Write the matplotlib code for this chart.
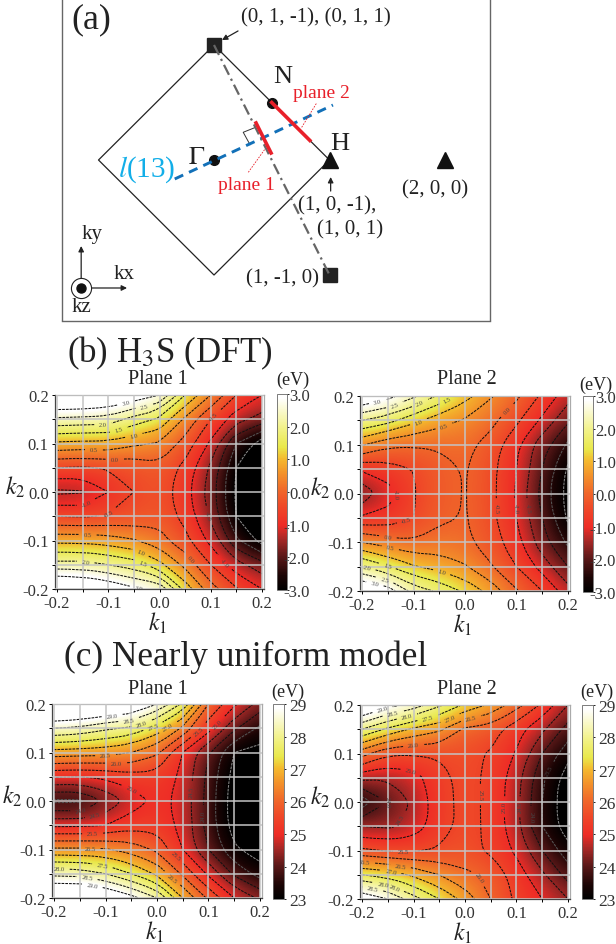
import matplotlib
matplotlib.use("Agg")
import matplotlib.pyplot as plt
import numpy as np
from matplotlib.colors import LinearSegmentedColormap
from matplotlib.patches import Rectangle
from matplotlib.path import Path

plt.rcParams['font.family'] = ['Liberation Serif', 'DejaVu Serif']
plt.rcParams['mathtext.fontset'] = 'stix'
plt.rcParams['axes.unicode_minus'] = False

W, H = 616, 945

# k grid of the tables below, rows run from k2 = 0.2 down to k2 = -0.2
k1_vals = [-0.2, -0.15, -0.1, -0.05, 0.0, 0.05, 0.1, 0.15, 0.2]
k2_vals = [0.2, 0.15, 0.1, 0.05, 0.0, -0.05, -0.1, -0.15, -0.2]

dft_plane1 = [
    [3.9, 3.9, 3.7, 3.4, 3.0, 1.5, 0.5, -0.5, -1.0],
    [2.4, 2.35, 2.3, 1.8, 1.4, 0.4, -0.5, -1.3, -1.7],
    [0.9, 0.85, 0.85, 0.6, 0.45, -0.2, -1.1, -2.5, -3.3],
    [-0.5, -0.55, -0.45, -0.35, -0.15, -0.65, -1.6, -3.0, -3.9],
    [-1.6, -1.55, -1.0, -0.5, -0.25, -0.8, -1.75, -3.1, -4.3],
    [-0.5, -0.55, -0.45, -0.35, -0.2, -0.65, -1.6, -3.0, -3.9],
    [0.85, 0.85, 0.75, 0.55, 0.2, -0.35, -1.15, -2.4, -3.2],
    [2.2, 2.2, 2.0, 1.75, 1.15, 0.35, -0.5, -1.3, -1.8],
    [3.9, 3.8, 3.5, 3.1, 2.9, 1.3, 0.2, -0.45, -1.0],
]
dft_plane2 = [
    [3.6, 3.2, 2.6, 1.9, 1.2, 0.55, 0.1, -0.6, -1.3],
    [2.0, 1.7, 1.15, 0.7, 0.45, 0.15, -0.4, -1.1, -1.9],
    [0.55, 0.12, 0.05, 0.05, 0.15, -0.2, -0.9, -1.8, -2.6],
    [-0.9, -0.75, -0.48, -0.15, 0.03, -0.35, -1.0, -2.0, -3.1],
    [-1.9, -1.2, -0.55, -0.15, 0.02, -0.35, -1.05, -2.2, -3.2],
    [-0.9, -0.85, -0.5, -0.1, 0.03, -0.35, -1.0, -2.0, -3.1],
    [0.5, 0.25, 0.05, 0.2, 0.12, -0.25, -0.85, -1.8, -2.6],
    [2.0, 1.55, 1.05, 0.8, 0.55, 0.05, -0.5, -1.2, -2.0],
    [3.7, 3.3, 2.3, 1.9, 1.4, 0.8, 0.05, -0.5, -1.3],
]
model_plane1 = [
    [30.2, 30.1, 29.9, 29.7, 29.0, 27.9, 26.0, 25.1, 24.3],
    [28.5, 28.4, 28.1, 27.9, 27.3, 26.4, 25.2, 24.1, 23.4],
    [26.8, 26.75, 26.7, 26.5, 26.1, 25.0, 24.05, 23.0, 22.8],
    [25.05, 25.0, 25.1, 25.3, 25.3, 24.9, 23.85, 22.8, 22.3],
    [23.4, 23.4, 24.05, 24.7, 25.15, 24.85, 23.8, 22.7, 22.0],
    [24.9, 24.9, 25.0, 25.3, 25.3, 24.85, 23.8, 22.75, 22.2],
    [26.6, 26.6, 26.55, 26.3, 25.9, 25.0, 24.0, 23.1, 22.7],
    [28.35, 28.3, 28.0, 27.5, 26.9, 25.9, 24.9, 23.9, 23.3],
    [30.0, 30.0, 29.7, 29.2, 28.5, 27.0, 25.9, 25.0, 24.4],
]
model_plane2 = [
    [29.8, 29.2, 28.8, 28.1, 27.4, 26.9, 26.2, 25.4, 24.5],
    [28.0, 27.4, 26.9, 26.6, 25.9, 25.75, 25.2, 24.6, 23.8],
    [26.2, 25.6, 25.55, 25.55, 25.65, 25.45, 24.95, 24.0, 23.2],
    [24.65, 24.55, 24.8, 25.35, 25.65, 25.4, 24.7, 23.6, 22.7],
    [23.2, 24.0, 24.55, 25.3, 25.65, 25.4, 24.65, 23.5, 22.6],
    [24.5, 24.4, 24.7, 25.3, 25.65, 25.4, 24.65, 23.5, 22.7],
    [25.6, 25.45, 25.45, 25.55, 25.7, 25.4, 24.9, 24.0, 23.2],
    [27.5, 27.3, 26.9, 26.5, 26.1, 25.9, 25.25, 24.6, 23.8],
    [29.5, 29.0, 28.2, 27.5, 26.8, 26.0, 25.4, 25.0, 24.5],
]

dft_levels = [-3.0, -2.5, -2.0, -1.5, -1.0, -0.5, 0.0, 0.5, 1.0, 1.5, 2.0, 2.5, 3.0]
model_levels = [23.0, 23.5, 24.0, 24.5, 25.0, 25.5, 26.0, 26.5, 27.0, 27.5, 28.0, 28.5, 29.0]
dft_ticks = [-3.0, -2.0, -1.0, 0.0, 1.0, 2.0, 3.0]
model_ticks = [23, 24, 25, 26, 27, 28, 29]
k_ticks = [-0.2, -0.1, 0.0, 0.1, 0.2]
k_minor = [-0.15, -0.05, 0.05, 0.15]

# where the contour labels sit in each panel (k1, k2)
dft1_labels = [(-.065, .18), (-.03, .177), (-.11, .138), (-.08, .128), (-.05, .116), (-.128, .085),
               (-.088, .068), (-.14, -.03), (-.1, -.045), (-.14, -.085), (-.035, -.12), (-.03, -.14),
               (-.145, -.15), (-.04, -.19), (.065, -.135), (.122, -.15), (.105, .157), (.087, -.05)]
dft2_labels = [(-.17, .19), (-.137, .182), (-.087, .185), (-.03, .185), (-.09, .146), (-.04, .136),
               (.086, .166), (-.115, -.05), (-.15, -.09), (-.145, -.11), (-.045, -.16), (-.15, -.145),
               (-.19, -.15), (-.155, -.177), (-.175, -.185), (-.133, 0.0), (.062, -.03), (.095, -.03),
               (.12, -.03)]
model1_labels = [(-.087, .175), (-.055, .165), (-.03, .16), (-.008, .155), (.02, .155), (-.1, .095),
                 (-.08, .085), (-.04, .04), (-.12, -.03), (-.15, -.015), (-.125, -.07), (-.13, -.095),
                 (-.105, -.125), (-.135, -.155), (-.125, -.17), (-.19, -.14), (.03, -.12), (.025, -.165),
                 (.085, .14), (.117, .16), (.065, .02), (.09, -.03)]
model2_labels = [(-.16, .19), (-.14, .18), (-.113, .177), (-.073, .175), (-.03, .175), (.012, .17),
                 (-.1, .117), (-.105, .066), (-.12, -.04), (-.138, -.005), (-.12, -.093), (.03, -.154),
                 (-.125, -.13), (-.195, -.125), (-.145, -.15), (-.135, -.17), (-.16, -.175), (-.18, -.185),
                 (.042, .015), (.082, -.01), (.108, -.01), (.13, -.03), (.17, .06)]

# Brillouin zone sketch, in units of the lattice vector
bz_kx = [0, 1, 0, -1, 0]
bz_ky = [1, 0, -1, 0, 1]

cmap = LinearSegmentedColormap.from_list("bz", [
    (0.0, "#000000"), (0.07, "#1a0404"), (0.17, "#5a1818"), (0.26, "#a82826"),
    (0.33, "#ee2c26"), (0.42, "#ef4628"), (0.5, "#f0642a"), (0.6, "#f3942a"),
    (0.67, "#f4b92e"), (0.73, "#e9e84a"), (0.83, "#f2f28a"), (0.92, "#faf9d0"),
    (0.98, "#ffffff"), (1.0, "#ffffff")])


def px_axes(fig, left, top, right, bottom):
    return fig.add_axes([left / W, 1 - bottom / H, (right - left) / W, (bottom - top) / H])


def label(fig, x, y, s, **kw):
    kw.setdefault('ha', 'center')
    kw.setdefault('va', 'center')
    kw.setdefault('color', '#222222')
    fig.text(x / W, 1 - y / H, s, **kw)


def rounded(path):
    # draw a contour as quadratic curves through its segment midpoints
    verts, codes = [], []
    for poly in path.to_polygons(closed_only=False):
        if len(poly) < 2:
            continue
        verts.append(poly[0])
        codes.append(Path.MOVETO)
        for i in range(1, len(poly) - 1):
            verts.extend([poly[i], (poly[i] + poly[i + 1]) / 2])
            codes.extend([Path.CURVE3, Path.CURVE3])
        verts.append(poly[-1])
        codes.append(Path.LINETO)
    if not verts:
        return path
    return Path(np.array(verts), codes)


def panel(fig, values, levels, ticks, tick_fmt, spots, box, cbox, title, title_x, title_y, ev_xy, right_align):
    ax = px_axes(fig, *box)
    z = np.array(values)
    vmin, vmax = levels[0], levels[-1]
    im = ax.imshow(z, cmap=cmap, vmin=vmin, vmax=vmax, interpolation='bicubic', aspect='auto',
                   extent=[-0.225, 0.225, -0.225, 0.225], origin='upper', zorder=0)
    im.set_clip_path(Rectangle((-0.2, -0.2), 0.4, 0.4, transform=ax.transData))
    # lowest contours read as light grey on the black area
    cols = ['#888888', '#555555'] + ['#111111'] * (len(levels) - 2)
    cs = ax.contour(k1_vals, k2_vals, z, levels=levels, colors=cols, linewidths=0.75,
                    linestyles=[(0, (2.6, 1.0))])
    ax.set_xlim(-0.204, 0.204)
    ax.set_ylim(-0.2, 0.2)
    txts = ax.clabel(cs, fontsize=4.6, fmt='%.1f', manual=spots)
    for t in txts:
        t.set_color('#444444')
    cs.set_paths([rounded(p) for p in cs.get_paths()])
    ax.set_xticks(k_ticks)
    ax.set_yticks(k_ticks)
    ax.set_xticks(k_minor, minor=True)
    ax.set_yticks(k_minor, minor=True)
    ax.set_xticklabels(['%.1f' % t for t in k_ticks], fontsize=12, color='#333333')
    ax.set_yticklabels(['%.1f' % t for t in k_ticks], fontsize=12, color='#333333')
    ax.tick_params(which='both', length=2.5, width=0.7, pad=2)
    ax.grid(which='both', color='#c4c4c4', linewidth=1.1)
    ax.set_axisbelow(False)
    for sp in ax.spines.values():
        sp.set_linewidth(0.9)
        sp.set_color('#444444')
    ax.spines['top'].set_color('#aaaaaa')
    ax.spines['right'].set_color('#aaaaaa')

    cax = px_axes(fig, *cbox)
    sm = plt.cm.ScalarMappable(cmap=cmap, norm=plt.Normalize(vmin, vmax))
    cb = fig.colorbar(sm, cax=cax, ticks=ticks)
    cb.ax.set_yticklabels([tick_fmt % t for t in ticks], fontsize=12 if right_align else 12.5, color='#333333')
    cb.ax.tick_params(length=1.5, width=0.6, pad=15 if right_align else 2)
    if right_align:
        for t in cb.ax.get_yticklabels():
            t.set_ha('right')
    cb.outline.set_linewidth(0.6)
    cb.outline.set_edgecolor('#666666')

    label(fig, title_x, title_y, title, fontsize=14.5)
    label(fig, ev_xy[0], ev_xy[1], '(eV)', fontsize=13)
    mid_x = (box[0] + box[2]) / 2
    label(fig, mid_x - 2, box[3] + 33, r'$k_1$', fontsize=17)
    label(fig, box[0] - 40, (box[1] + box[3]) / 2 - 6, r'$k_2$', fontsize=17)


fig = plt.figure(figsize=(W / 100, H / 100), dpi=100)

# (a) Brillouin zone sketch, frame runs past the top edge of the figure
ax_a = px_axes(fig, 62, -3, 490, 321.5)
ax_a.set_xlim((62 - 214) / 115.5, (490 - 214) / 115.5)
ax_a.set_ylim((161 - 321.5) / 115.0, (161 + 3) / 115.0)
ax_a.set_xticks([])
ax_a.set_yticks([])
for sp in ax_a.spines.values():
    sp.set_linewidth(1.0)
    sp.set_color('#666666')
ax_a.plot(bz_kx, bz_ky, color='#222222', lw=0.9)
ax_a.plot([0, 1], [1, -1], color='#666666', lw=1.6, ls=(0, (5, 2, 1, 2)), zorder=5)
ax_a.plot([-0.34, 1.03], [-0.165, 0.478], color='#1270b8', lw=2.1, ls=(0, (3.2, 2.2)), zorder=4)
ax_a.plot([0.364, 0.494], [0.322, 0.061], color='#e8202a', lw=2.6, zorder=6)
ax_a.plot([0.5, 0.83], [0.5, 0.17], color='#e8202a', lw=2.6, zorder=6)
ax_a.plot([0.36, 0.253, 0.312], [0.284, 0.241, 0.133], color='#333333', lw=0.7)
ax_a.plot([0.297, 0.442], [-0.107, 0.096], color='#e8202a', lw=0.6, ls=(0, (2, 1.5)), zorder=6)
ax_a.plot([0.759, 0.889], [0.284, 0.496], color='#e8202a', lw=0.6, ls=(0, (2, 1.5)), zorder=6)
ax_a.plot([0, 0.5], [0, 0.5], ls='none', marker='o', ms=7, color='#111111', zorder=3)
ax_a.plot([1, 2], [0, 0], ls='none', marker='^', ms=11, color='#111111', zorder=3)
ax_a.plot([0, 1], [1, -1], ls='none', marker='s', ms=10.5, color='#222222', zorder=3)
arrow = dict(arrowstyle='-|>', color='#222222', lw=0.9, mutation_scale=8, shrinkA=0, shrinkB=0)
ax_a.annotate('', xy=(0.069, 1.043), xytext=(0.208, 1.122), arrowprops=arrow)
ax_a.annotate('', xy=(1.01, -0.148), xytext=(1.01, -0.27), arrowprops=arrow)
# coordinate axes
ax_a.annotate('', xy=(-1.15, -0.748), xytext=(-1.15, -1.113), arrowprops=arrow)
ax_a.annotate('', xy=(-0.753, -1.113), xytext=(-1.15, -1.113), arrowprops=arrow)
ax_a.plot([-1.15], [-1.113], marker='o', ms=14.5, mfc='white', mec='#222222', mew=0.8, zorder=5)
ax_a.plot([-1.15], [-1.113], marker='o', ms=6.5, color='#111111', zorder=6)

label(fig, 91, 20, '(a)', fontsize=26)
label(fig, 316, 18, '(0, 1, -1), (0, 1, 1)', fontsize=15)
label(fig, 283, 77, 'N', fontsize=19)
label(fig, 321, 93, 'plane 2', fontsize=14, color='#e8202a')
label(fig, 340, 144, 'H', fontsize=19)
label(fig, 197, 158, r'$\Gamma$', fontsize=19)
label(fig, 147, 170, r'$\mathit{l}$(13)', fontsize=21, color='#12aee8')
label(fig, 246, 186, 'plane 1', fontsize=14, color='#e8202a')
label(fig, 435, 190, '(2, 0, 0)', fontsize=15)
label(fig, 337, 206, '(1, 0, -1),', fontsize=15)
label(fig, 350, 230, '(1, 0, 1)', fontsize=15)
label(fig, 283, 279, '(1, -1, 0)', fontsize=15)
label(fig, 92, 235, 'ky', fontsize=15)
label(fig, 124, 275, 'kx', fontsize=15)
label(fig, 81, 308, 'kz', fontsize=15)

label(fig, 170, 353, '(b) H$_3$S (DFT)', fontsize=25)
label(fig, 246, 657, '(c) Nearly uniform model', fontsize=25.4)

panel(fig, dft_plane1, dft_levels, dft_ticks, '%.1f', dft1_labels, (55, 396, 264, 590), (277, 395, 287, 591),
      'Plane 1', 158, 379, (293, 380), True)
panel(fig, dft_plane2, dft_levels, dft_ticks, '%.1f', dft2_labels, (360, 397, 570, 592), (583, 397, 593, 593),
      'Plane 2', 467, 379, (596, 385), True)
panel(fig, model_plane1, model_levels, model_ticks, '%d', model1_labels, (52, 705, 262, 899), (273, 705, 284, 900),
      'Plane 1', 158, 689, (288, 692), False)
panel(fig, model_plane2, model_levels, model_ticks, '%d', model2_labels, (360, 706, 570, 900), (582, 706, 593, 900),
      'Plane 2', 467, 689, (597, 692), False)

plt.savefig("out.png", dpi=100)
